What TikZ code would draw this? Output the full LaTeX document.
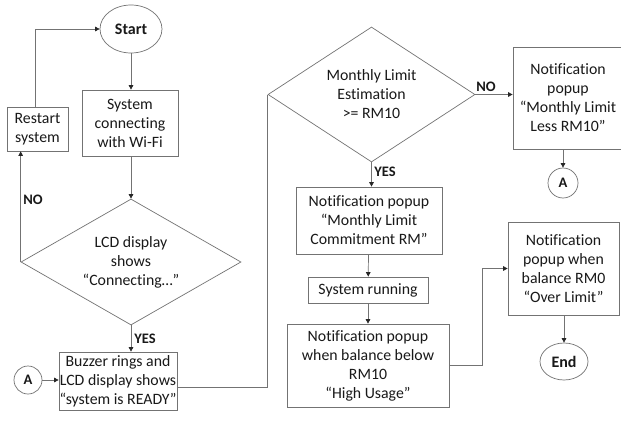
\documentclass[tikz,border=0pt]{standalone}
\usepackage{fontspec}
\setmainfont{Carlito}[Ligatures={NoCommon,NoRare,NoContextual},RawFeature={-liga;-dlig;-clig}]
\usetikzlibrary{shapes.geometric,arrows.meta}
\begin{document}
\begin{tikzpicture}[x=1pt,y=-1pt,
  base/.style={draw=black!55, line width=0.7pt, text=black!90, align=center,
    inner sep=0pt, font=\fontsize{15.8}{19}\selectfont},
  box/.style={base, rectangle},
  term/.style={base, ellipse, font=\fontsize{16}{19}\selectfont\bfseries},
  dec/.style={base, diamond, aspect=1.6},
  conn/.style={base, circle, font=\fontsize{14.5}{16}\selectfont\bfseries},
  lbl/.style={text=black!90, font=\fontsize{14.5}{16}\selectfont\bfseries, inner sep=0pt},
  line/.style={draw=black!55, line width=0.7pt},
  arr/.style={line, -{Triangle[width=4.5pt,length=4.5pt,color=black!85]}}
]
\fill[white] (0,0) rectangle (621,423);
\useasboundingbox (0,0) rectangle (621,423);

% left column
\node[term, minimum width=62pt, minimum height=48pt] (start) at (131,29) {Start};
\node[box, minimum width=96pt, minimum height=66pt] (wifi) at (130,123)
  {System\\connecting\\with Wi-Fi};
\node[box, minimum width=61pt, minimum height=44pt] (restart) at (37.5,129)
  {Restart\\system};
\node[dec, minimum width=220pt, minimum height=126pt] (lcd) at (131,262)
  {LCD display\\shows\\“Connecting…”};
\node[box, minimum width=118pt, minimum height=58pt] (ready) at (118,381)
  {Buzzer rings and\\LCD display shows\\“system is READY”};
\node[conn, minimum size=28pt] (ain) at (28,380) {A};

% middle column
\node[dec, minimum width=207pt, minimum height=135pt] (limit) at (371.5,94.5)
  {Monthly Limit\\Estimation\\>= RM10};
\node[box, minimum width=146pt, minimum height=67pt] (commit) at (369,220.5)
  {Notification popup\\“Monthly Limit\\Commitment RM”};
\node[box, minimum width=120pt, minimum height=26pt] (run) at (368,290)
  {System running};
\node[box, minimum width=162pt, minimum height=83pt] (high) at (368,365.5)
  {Notification popup\\when balance below\\RM10\\“High Usage”};

% right column
\node[box, minimum width=110pt, minimum height=102pt] (less) at (568,98)
  {Notification\\popup\\“Monthly Limit\\Less RM10”};
\node[conn, minimum size=30pt] (aout) at (563,183) {A};
\node[box, minimum width=111pt, minimum height=93pt] (over) at (563.5,268.5)
  {Notification\\popup when\\balance RM0\\“Over Limit”};
\node[term, minimum width=48pt, minimum height=37pt] (end) at (564,361.5) {End};

% branch labels
\node[lbl] (no1) at (33,200) {NO};
\node[lbl] (yes1) at (145,339) {YES};
\node[lbl] (yes2) at (385,172) {YES};
\node[lbl] (no2) at (486,87) {NO};

% connectors
\draw[arr] (start) -- (start |- wifi.north);
\draw[arr] (start |- wifi.south) -- (lcd.north);
\draw[arr] (lcd.west) -- (lcd.west |- restart.south);
\draw[arr] ([xshift=-2.5pt]restart.north) |- (start.west);
\draw[arr] (lcd.south) -- (lcd.south |- ready.north);
\draw[arr] (ain) -- (ain -| ready.west);
\draw[line] ([yshift=-6pt]ready.east) -| (limit.west);
\draw[arr] (limit.east) -- (limit.east -| less.west);
\draw[arr] (aout |- less.south) -- (aout.north);
\draw[arr] (limit.south) -- (limit.south |- commit.north);
\draw[arr] (commit) -- (run);
\draw[arr] (run) -- (high);
\draw[arr] (high.east) -- ++(33,0) |- (over.west);
\draw[arr] (end |- over.south) -- (end.north);
\end{tikzpicture}
\end{document}
